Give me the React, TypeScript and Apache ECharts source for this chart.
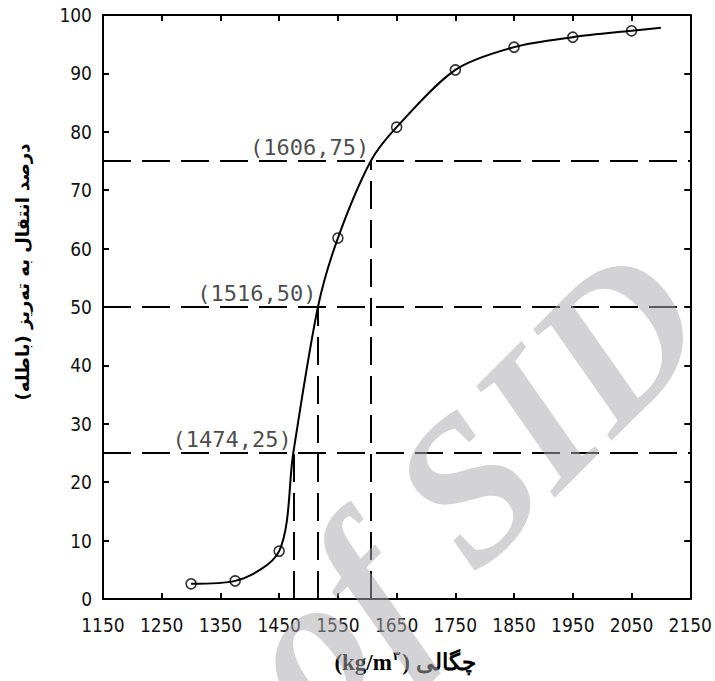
import React, { useEffect, useRef } from "react";
import * as echarts from "echarts";

// Measured points (circles)
const densityMeasured = [1300, 1375, 1450, 1550, 1650, 1750, 1850, 1950, 2050];
const percentMeasured = [2.6, 3.1, 8.2, 61.8, 80.8, 90.6, 94.5, 96.2, 97.3];

// Curve drawn through the points (includes the labelled points and the end of the curve)
const curveDensity = [1300, 1375, 1450, 1474, 1516, 1550, 1606, 1650, 1750, 1850, 1950, 2050, 2100];
const curvePercent = [2.6, 3.1, 8.2, 25, 50, 61.8, 75, 80.8, 90.6, 94.5, 96.2, 97.3, 97.8];

// Labelled reading points
const readDensity = [1474, 1516, 1606];
const readPercent = [25, 50, 75];

const xMin = 1150;
const xMax = 2150;
const yMin = 0;
const yMax = 100;

const yTitle = "\u200Fدرصد انتقال به ته‌ریز (باطله)\u200F";
const xTitleUnit = "(kg/m";
const xTitleSup = "۳";
const xTitleWord = ") چگالی";
const watermark = "Archive of SID";

const tickFont = "'Liberation Sans Narrow', 'DejaVu Sans Condensed', 'Arial Narrow', sans-serif";

export default function App() {
  const ref = useRef<HTMLDivElement>(null);

  useEffect(() => {
    if (!ref.current) return;
    const chart = echarts.init(ref.current, undefined, { renderer: "svg" });

    const dash = [28, 11];
    const markLines: any[] = [];
    readDensity.forEach((d, i) => {
      markLines.push([{ coord: [xMin, readPercent[i]] }, { coord: [xMax, readPercent[i]] }]);
      markLines.push([{ coord: [d, yMin] }, { coord: [d, readPercent[i]] }]);
    });

    const axisCommon = {
      axisLine: { show: true, onZero: false, lineStyle: { color: "#000", width: 2 } },
      axisTick: { show: true, inside: true, length: 6, lineStyle: { color: "#000", width: 2 } },
      splitLine: { show: false },
    };

    const option: any = {
      animation: false,
      backgroundColor: "#ffffff",
      grid: { left: 103, right: 23, top: 15, bottom: 82, containLabel: false },
      xAxis: [
        {
          type: "value",
          min: xMin,
          max: xMax,
          interval: 100,
          position: "bottom",
          ...axisCommon,
          axisLabel: {
            color: "#111",
            fontSize: 19,
            fontFamily: tickFont,
            margin: 16,
            formatter: (v: number) => String(v),
          },
        },
        {
          type: "value",
          min: xMin,
          max: xMax,
          interval: 100,
          position: "top",
          ...axisCommon,
          axisLabel: { show: false },
        },
      ],
      yAxis: [
        {
          type: "value",
          min: yMin,
          max: yMax,
          interval: 10,
          position: "left",
          ...axisCommon,
          axisLabel: {
            color: "#111",
            fontSize: 19,
            fontFamily: tickFont,
            margin: 11,
            formatter: (v: number) => String(v),
          },
        },
        {
          type: "value",
          min: yMin,
          max: yMax,
          interval: 10,
          position: "right",
          ...axisCommon,
          axisLabel: { show: false },
        },
      ],
      series: [
        {
          type: "line",
          name: "curve",
          data: curveDensity.map((d, i) => [d, curvePercent[i]]),
          smooth: 0.3,
          showSymbol: false,
          symbol: "none",
          lineStyle: { color: "#000", width: 2 },
          z: 3,
          markLine: {
            silent: true,
            symbol: ["none", "none"],
            label: { show: false },
            lineStyle: { color: "#000", width: 2, type: dash },
            data: markLines,
          },
        },
        {
          type: "scatter",
          name: "measured",
          data: densityMeasured.map((d, i) => [d, percentMeasured[i]]),
          symbol: "circle",
          symbolSize: 10,
          itemStyle: { color: "rgba(0,0,0,0)", borderColor: "#000", borderWidth: 1.6 },
          z: 4,
        },
        {
          type: "scatter",
          name: "readings",
          data: readDensity.map((d, i) => [d, readPercent[i]]),
          symbol: "circle",
          symbolSize: 1,
          itemStyle: { color: "transparent" },
          label: {
            show: true,
            position: [0, 0],
            align: "right",
            verticalAlign: "bottom",
            offset: [-1, -2],
            formatter: (p: any) => `(${p.value[0]},${p.value[1]})`,
            color: "#1a1a1a",
            fontSize: 22,
            fontWeight: "normal",
            fontFamily: "'DejaVu Sans Mono', monospace",
          },
          z: 5,
        },
      ],
      graphic: [
        {
          type: "text",
          x: 22,
          y: 272,
          rotation: Math.PI / 2,
          style: {
            text: yTitle,
            font: "bold 18px 'DejaVu Sans', 'Noto Sans', sans-serif",
            fill: "#000",
            align: "center",
            verticalAlign: "middle",
            textAlign: "center",
            textVerticalAlign: "middle",
          },
        },
        {
          type: "text",
          x: 405,
          y: 662,
          style: {
            text: `{a|${xTitleUnit}}{s|${xTitleSup}}{a|${xTitleWord}}`,
            rich: {
              a: { font: "bold 23px 'Liberation Serif', 'DejaVu Serif', serif", fill: "#000" },
              s: { font: "bold 12px 'DejaVu Sans', sans-serif", fill: "#000", padding: [0, 2, 12, 1] },
            },
            align: "center",
            verticalAlign: "middle",
            textAlign: "center",
            textVerticalAlign: "middle",
          },
        },
        {
          type: "text",
          x: 668,
          y: 286,
          rotation: Math.PI / 4,
          z: 100,
          silent: true,
          style: {
            text: watermark,
            font: "italic bold 205px 'Liberation Serif', 'DejaVu Serif', serif",
            fill: "rgba(170,170,174,0.52)",
            align: "right",
            verticalAlign: "middle",
            textAlign: "right",
            textVerticalAlign: "middle",
          },
        },
      ],
    };

    chart.setOption(option);
    return () => chart.dispose();
  }, []);

  return (
    <div
      ref={ref}
      style={{ position: "fixed", left: 0, top: 0, width: 715, height: 681, background: "#fff" }}
    />
  );
}
